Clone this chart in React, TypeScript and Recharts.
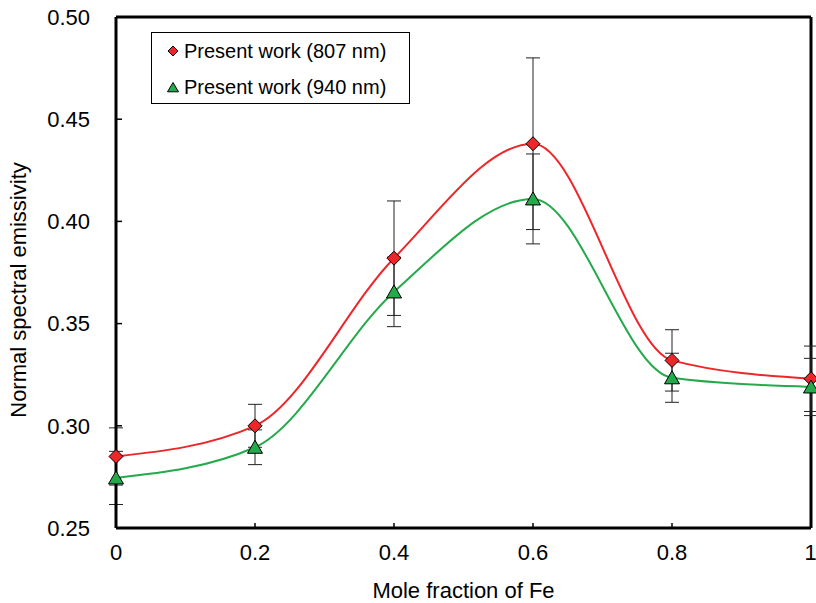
import React from 'react';
import {
  ComposedChart,
  Line,
  XAxis,
  YAxis,
  ErrorBar,
  ReferenceLine,
} from 'recharts';

// Mole fraction of Fe vs normal spectral emissivity
const fractions = [0, 0.2, 0.4, 0.6, 0.8, 1];
const emis807 = [0.285, 0.3, 0.382, 0.438, 0.332, 0.323];
const emis940 = [0.2745, 0.2895, 0.3655, 0.411, 0.3235, 0.319];
const err807 = [0.014, 0.0105, 0.028, 0.042, 0.015, 0.016];
const err940 = [0.013, 0.0085, 0.017, 0.022, 0.012, 0.014];

const xTicks = [0, 0.2, 0.4, 0.6, 0.8, 1];
const yTicks = [0.25, 0.3, 0.35, 0.4, 0.45, 0.5];

const RED = '#EE2629';
const GREEN = '#24AA4B';
const FONT = '"Liberation Sans", Arial, sans-serif';

const data = fractions.map((x, i) => ({
  x,
  e807: emis807[i],
  e940: emis940[i],
  err807: err807[i],
  err940: err940[i],
}));

const Diamond = (props: any) => {
  const { cx, cy, s = 7 } = props;
  if (cx == null || cy == null) return null;
  return (
    <path
      d={`M${cx},${cy - s} L${cx + s},${cy} L${cx},${cy + s} L${cx - s},${cy} Z`}
      fill={RED}
      stroke="#000"
      strokeWidth={1}
    />
  );
};

const Triangle = (props: any) => {
  const { cx, cy, s = 7 } = props;
  if (cx == null || cy == null) return null;
  return (
    <path
      d={`M${cx},${cy - s} L${cx + s + 0.5},${cy + s * 0.86} L${cx - s - 0.5},${cy + s * 0.86} Z`}
      fill={GREEN}
      stroke="#000"
      strokeWidth={1}
    />
  );
};

// y axis title drawn in its own svg so it can sit exactly where the original has it
const YTitle = () => (
  <svg
    width={40}
    height={603}
    style={{ position: 'absolute', left: 0, top: 0, pointerEvents: 'none' }}
  >
    <text
      x={18}
      y={290}
      transform="rotate(-90 18 290)"
      textAnchor="middle"
      dominantBaseline="central"
      fontSize={22}
      fill="#000"
      fontFamily={FONT}
    >
      Normal spectral emissivity
    </text>
  </svg>
);

const legendRow: React.CSSProperties = {
  position: 'absolute',
  left: 14,
  display: 'flex',
  alignItems: 'center',
  height: 24,
  whiteSpace: 'nowrap',
};

const LegendBox = () => (
  <div
    style={{
      position: 'absolute',
      left: 151,
      top: 32,
      width: 257,
      height: 70,
      border: '1.5px solid #000',
      background: '#fff',
      fontFamily: FONT,
      fontSize: 20,
      color: '#000',
    }}
  >
    <div style={{ ...legendRow, top: 6 }}>
      <svg width={14} height={14} style={{ marginRight: 4 }}>
        <Diamond cx={7} cy={7} s={5} />
      </svg>
      Present work (807 nm)
    </div>
    <div style={{ ...legendRow, top: 42 }}>
      <svg width={14} height={14} style={{ marginRight: 4 }}>
        <Triangle cx={7} cy={7.5} s={5} />
      </svg>
      Present work (940 nm)
    </div>
  </div>
);

export default function App() {
  return (
    <div style={{ position: 'absolute', left: 0, top: 0, width: 816, height: 603, background: '#fff' }}>
      <ComposedChart
        width={816}
        height={603}
        data={data}
        margin={{ top: 17, right: 5, left: 0, bottom: 0 }}
      >
        <XAxis
          dataKey="x"
          type="number"
          domain={[0, 1]}
          ticks={xTicks}
          tickFormatter={(v: number) => String(v)}
          height={75}
          axisLine={{ stroke: '#000', strokeWidth: 3 }}
          tickLine={{ stroke: '#000', strokeWidth: 1.5 }}
          tickSize={-5}
          tickMargin={21}
          tick={{ fontSize: 22, fill: '#000', fontFamily: FONT }}
          label={{
            value: 'Mole fraction of Fe',
            position: 'insideBottom',
            offset: 5,
            style: { fontSize: 22, fill: '#000', fontFamily: FONT },
          }}
        />
        <YAxis
          type="number"
          domain={[0.25, 0.5]}
          ticks={yTicks}
          tickFormatter={(v: number) => v.toFixed(2)}
          width={116}
          axisLine={{ stroke: '#000', strokeWidth: 3 }}
          tickLine={{ stroke: '#000', strokeWidth: 1.5 }}
          tickSize={-6}
          tickMargin={32}
          tick={{ fontSize: 22, fill: '#000', fontFamily: FONT }}
        />
        <ReferenceLine y={0.5} stroke="#000" strokeWidth={3} />
        <ReferenceLine x={1} stroke="#000" strokeWidth={3} />
        <Line
          type="monotone"
          dataKey="e807"
          stroke={RED}
          strokeWidth={2}
          dot={<Diamond />}
          activeDot={false}
          isAnimationActive={false}
        >
          <ErrorBar dataKey="err807" width={7} stroke="#222" strokeWidth={1} direction="y" />
        </Line>
        <Line
          type="monotone"
          dataKey="e940"
          stroke={GREEN}
          strokeWidth={2}
          dot={<Triangle />}
          activeDot={false}
          isAnimationActive={false}
        >
          <ErrorBar dataKey="err940" width={7} stroke="#222" strokeWidth={1} direction="y" />
        </Line>
      </ComposedChart>
      <YTitle />
      <LegendBox />
    </div>
  );
}
